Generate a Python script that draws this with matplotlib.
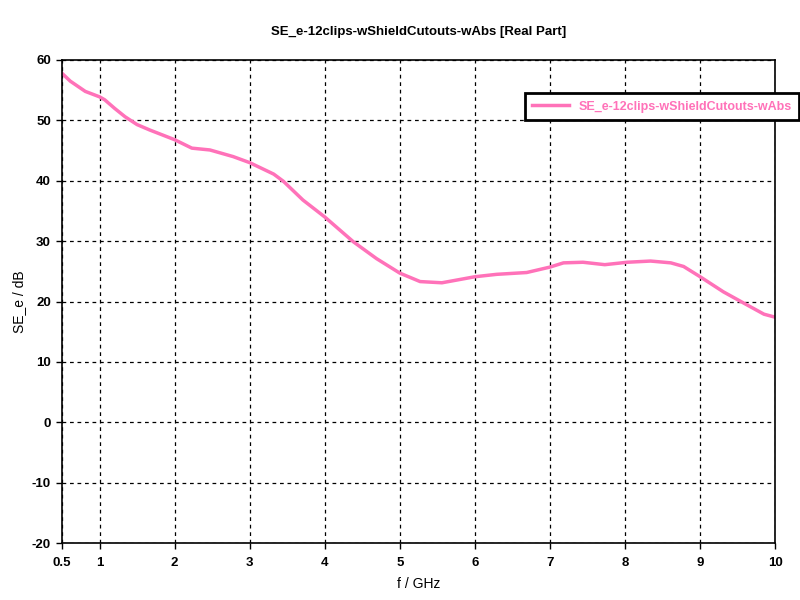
import matplotlib.pyplot as plt

# frequency in GHz and shielding effectiveness in dB
freq = [0.5, 0.61, 0.81, 1.0, 1.07, 1.2, 1.34, 1.5, 1.67, 2.0, 2.23, 2.47, 2.78, 3.0,
        3.32, 3.45, 3.71, 4.0, 4.38, 4.69, 5.0, 5.27, 5.56, 6.0, 6.29, 6.69,
        7.0, 7.18, 7.44, 7.73, 8.03, 8.34, 8.61, 8.78, 9.0, 9.31, 9.63, 9.85, 10.0]
se_e = [57.8, 56.5, 54.8, 53.9, 53.4, 52.0, 50.6, 49.3, 48.4, 46.8, 45.4, 45.1, 44.0, 43.0,
        41.1, 39.9, 36.8, 34.0, 29.9, 27.1, 24.7, 23.3, 23.1, 24.1, 24.5, 24.8,
        25.7, 26.4, 26.5, 26.1, 26.5, 26.7, 26.4, 25.8, 24.1, 21.6, 19.4, 17.9, 17.4]

xticks = [0.5, 1, 2, 3, 4, 5, 6, 7, 8, 9, 10]
yticks = [-20, -10, 0, 10, 20, 30, 40, 50, 60]
title = 'SE_e-12clips-wShieldCutouts-wAbs [Real Part]'
series_name = 'SE_e-12clips-wShieldCutouts-wAbs'

plt.rcParams['font.family'] = ['Liberation Sans', 'DejaVu Sans']
plt.rcParams['axes.unicode_minus'] = False
pink = '#ff72b9'

fig = plt.figure(figsize=(8, 6), dpi=100)
ax = fig.add_axes([0.0775, 0.095, 0.8915, 0.805])

ax.plot(freq, se_e, color=pink, linewidth=2.5, label=series_name)

ax.set_xlim(0.5, 10)
ax.set_ylim(-20, 60)
ax.set_xticks(xticks)
ax.set_xticklabels([str(t) for t in xticks])
ax.set_yticks(yticks)
ax.tick_params(direction='out', length=4, width=1, labelsize=9.5)
ax.tick_params(axis='x', pad=6)
ax.tick_params(axis='y', pad=4)
for lab in ax.get_xticklabels() + ax.get_yticklabels():
    lab.set_fontweight('bold')

ax.grid(True, color='black', linestyle=(0, (3, 3)), linewidth=0.9)
for s in ax.spines.values():
    s.set_linewidth(1.2)
    s.set_color('black')

ax.set_title(title, fontsize=9.5, fontweight='bold', pad=18)
ax.set_xlabel('f / GHz', fontsize=10, labelpad=6)
ax.set_ylabel('SE_e / dB', fontsize=10, labelpad=4)

leg = fig.legend(loc='center', bbox_to_anchor=(0.8275, 0.822), fontsize=9,
                 fancybox=False, framealpha=1, edgecolor='black',
                 handlelength=2.9, borderpad=0.6)
leg.get_frame().set_linewidth(2)
for t in leg.get_texts():
    t.set_color(pink)
    t.set_fontweight('bold')

fig.savefig('out.png', dpi=100)
